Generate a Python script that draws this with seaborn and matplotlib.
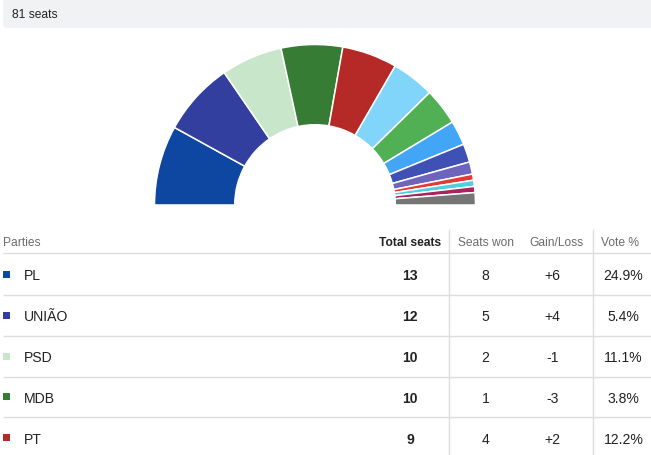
import matplotlib
matplotlib.use("Agg")
import matplotlib.pyplot as plt
from matplotlib.patches import FancyBboxPatch, Rectangle
import seaborn as sns

# seat distribution (semicircle, left to right)
parties = ['PL', 'UNIÃO', 'PSD', 'MDB', 'PT', 'PP', 'PODE', 'PSDB',
           'REPUBLICANOS', 'PDT', 'PSB', 'REDE', 'PROS', 'Others']
seats = [13, 12, 10, 10, 9, 7, 6, 4, 3, 2, 1, 1, 1, 2]
party_colors = ['#0d47a1', '#333f9f', '#c8e6c9', '#367c34', '#b52a27',
                '#81d4fa', '#52b054', '#42a5f5', '#3f51b5', '#6f64bd',
                '#e53935', '#4dd0e1', '#a9245a', '#757575']

# table rows visible in the picture
table_parties = ['PL', 'UNIÃO', 'PSD', 'MDB', 'PT']
total_seats = [13, 12, 10, 10, 9]
seats_won = [8, 5, 2, 1, 4]
gain_loss = ['+6', '+4', '-1', '-3', '+2']
vote_pct = ['24.9%', '5.4%', '11.1%', '3.8%', '12.2%']
headers = ['Parties', 'Total seats', 'Seats won', 'Gain/Loss', 'Vote %']

sns.set_theme(style="white")
plt.rcParams['font.family'] = ['Liberation Sans', 'DejaVu Sans']

W, H = 651, 456
fig = plt.figure(figsize=(W / 100, H / 100), dpi=100)
fig.patch.set_facecolor('white')

# full-figure axes in pixel coordinates for the header bar and table
tab = fig.add_axes([0, 0, 1, 1])
tab.set_xlim(0, W)
tab.set_ylim(H, 0)
tab.axis('off')

px = 0.72  # px -> pt at 100 dpi
grey_txt = '#6b6b6b'
dark_txt = '#222222'
line_col = '#dddddd'

# top bar
tab.add_patch(FancyBboxPatch((3, -20), W + 20, 49, boxstyle='round,pad=0,rounding_size=4',
                             facecolor='#f1f2f4', edgecolor='none'))
tab.text(12, 14 + 4.3, f'{sum(seats)} seats', fontsize=12 * px, color=dark_txt, va='baseline')

# table
header_y = 242
row_y = [275, 316.5, 357, 398, 439]
line_y = [254, 295.5, 336.5, 377.5, 418.5]
head_x = [3, 410, 485.5, 556.5, 620]
val_x = [24, 410, 485.5, 552.5, 623.5]

for y in line_y:
    tab.plot([3, W], [y, y], color=line_col, lw=1.0, solid_capstyle='butt')
for x in [449.3, 592.5]:
    tab.plot([x, x], [230, H], color=line_col, lw=1.0, solid_capstyle='butt')

for i, h in enumerate(headers):
    tab.text(head_x[i], header_y + 4.3, h, fontsize=12 * px,
             color=dark_txt if i == 1 else grey_txt,
             fontweight='bold' if i == 1 else 'normal',
             ha='left' if i == 0 else 'center', va='baseline')

color_of = dict(zip(parties, party_colors))
for i, p in enumerate(table_parties):
    y = row_y[i] + 5
    tab.add_patch(Rectangle((3, row_y[i] - 3.5), 7, 7, facecolor=color_of[p], edgecolor='none'))
    tab.text(val_x[0], y, p, fontsize=14 * px, color=dark_txt, va='baseline')
    tab.text(val_x[1], y, str(total_seats[i]), fontsize=14 * px, color=dark_txt,
             fontweight='bold', ha='center', va='baseline')
    tab.text(val_x[2], y, str(seats_won[i]), fontsize=14 * px, color=dark_txt,
             ha='center', va='baseline')
    tab.text(val_x[3], y, gain_loss[i], fontsize=14 * px, color=dark_txt,
             ha='center', va='baseline')
    tab.text(val_x[4], y, vote_pct[i], fontsize=14 * px, color=dark_txt,
             ha='center', va='baseline')

# semicircle seat chart: centre (315, 206) px, outer radius 160 px
cx, cy, r = 315, 206, 160.5
pie_ax = fig.add_axes([(cx - r) / W, (H - cy - r) / H, 2 * r / W, 2 * r / H])
pie_ax.patch.set_alpha(0)
wedges, _ = pie_ax.pie(seats + [sum(seats)], colors=party_colors + ['white'],
                       startangle=180, counterclock=False, radius=1,
                       wedgeprops=dict(width=0.5, edgecolor='white', linewidth=1.1))
wedges[-1].set_visible(False)
pie_ax.set_xlim(-1, 1)
pie_ax.set_ylim(-1, 1)
pie_ax.axis('off')

fig.savefig('out.png', dpi=100)
